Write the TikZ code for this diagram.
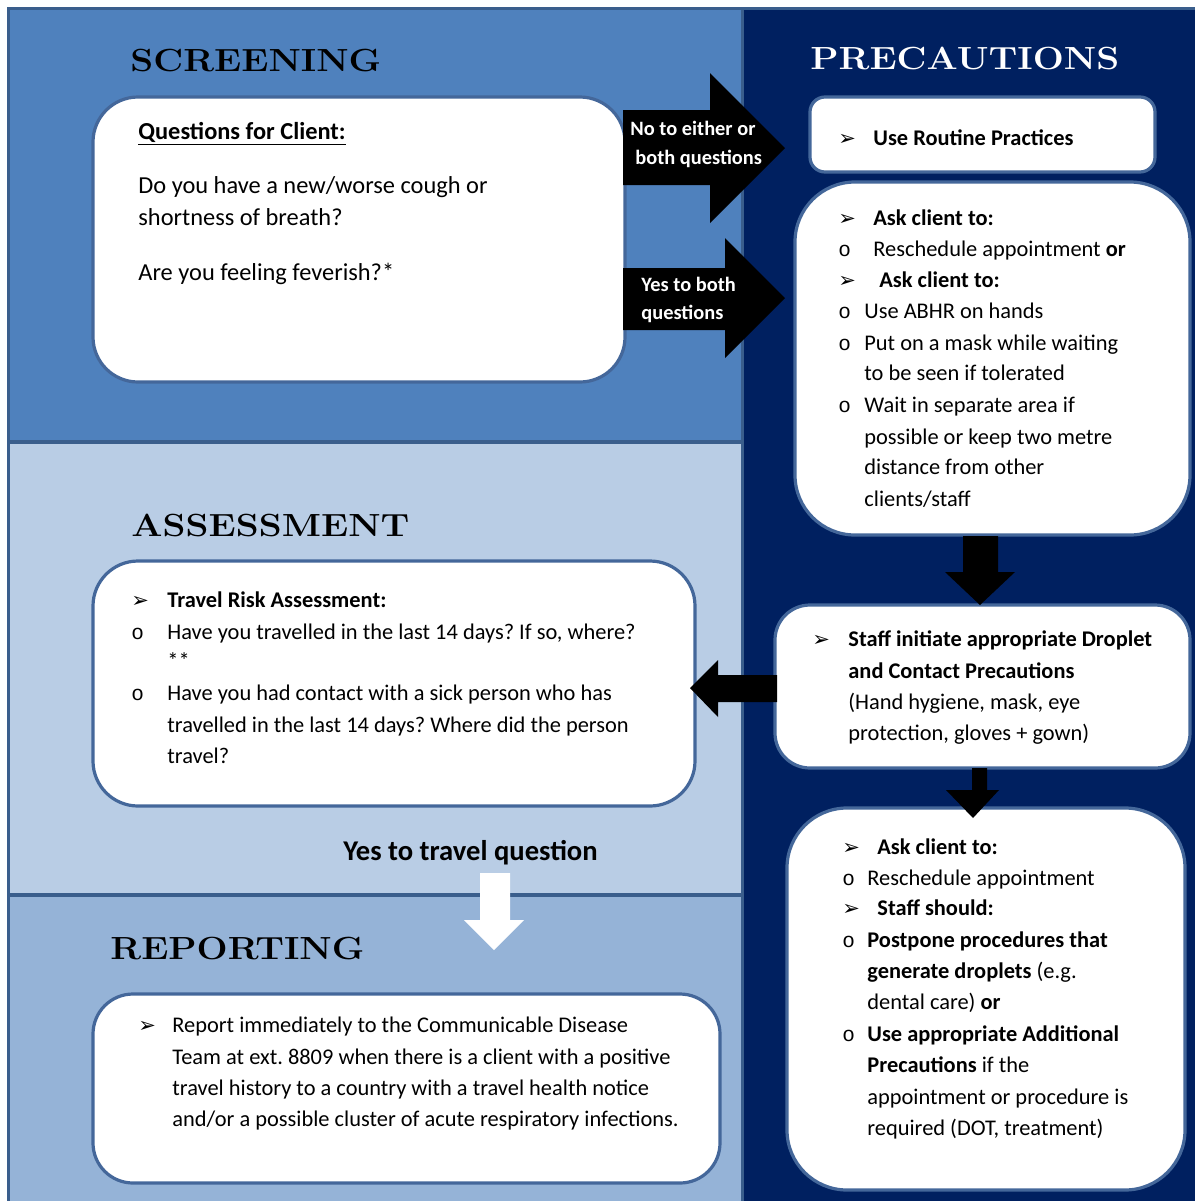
\documentclass[tikz,border=0pt]{standalone}
\usepackage{fontspec}
\usepackage{graphicx}
\newfontfamily\cali{Carlito}
\newfontfamily\djv{DejaVu Sans}
\newfontfamily\lmono{Liberation Mono}
\definecolor{scrbg}{HTML}{4F81BD}
\definecolor{assbg}{HTML}{B9CDE5}
\definecolor{repbg}{HTML}{95B3D7}
\definecolor{navy}{HTML}{002060}
\definecolor{divl}{HTML}{3A5E8C}
\definecolor{boxl}{HTML}{44679A}
\newcommand\arwb{{\djv\fontsize{10.5}{11}\selectfont ➢}}
\newcommand\obul{{\lmono\fontsize{10.5}{11}\selectfont o}}
\newcommand\ttlx[1]{\scalebox{1.15}[1]{#1}}
\frenchspacing
\begin{document}
\begin{tikzpicture}[x=0.5pt,y=-0.5pt,
 rbox/.style={draw=boxl,line width=1.6pt,fill=white,inner sep=0pt},
 txt/.style={anchor=base west,inner sep=0pt,font=\cali\fontsize{11.2}{13}\selectfont},
 qtxt/.style={anchor=base west,inner sep=0pt,font=\cali\fontsize{12.2}{14}\selectfont},
 blt/.style={anchor=base west,inner sep=0pt},
 ttl/.style={anchor=base west,inner sep=0pt,font=\bfseries\fontsize{16}{18}\selectfont},
 awt/.style={anchor=base west,inner sep=0pt,text=white,font=\cali\bfseries\fontsize{10.2}{12}\selectfont},
]
\useasboundingbox (0,0) rectangle (1195,1201);
\fill[white] (0,0) rectangle (1195,1201);
% panels
\fill[scrbg] (8,8) rectangle (742,442);
\fill[assbg] (8,442) rectangle (742,895);
\fill[repbg] (8,895) rectangle (742,1201);
\fill[navy] (742,8) rectangle (1195,1201);
\draw[divl,line width=2pt] (8,442) -- (742,442);
\draw[divl,line width=2pt] (8,895) -- (742,895);
\draw[divl,line width=1.5pt] (742,8) -- (742,1201);
\draw[divl,line width=1.5pt] (8,1201) -- (8,8) -- (1195,8);

% titles
\node[ttl] (tscr) at (130,71) {\ttlx{SCREENING}};
\node[ttl,text=white] (tpre) at (810,69) {\ttlx{PRECAUTIONS}};
\node[ttl] (tass) at (131,536) {\ttlx{ASSESSMENT}};
\node[ttl] (trep) at (110,959) {\ttlx{REPORTING}};

% boxes
\node[rbox,rounded corners=22.5pt,minimum width=266pt,minimum height=142.5pt] (qbox) at (359,239.5) {};
\node[rbox,rounded corners=7.5pt,minimum width=172.5pt,minimum height=37.5pt] (routbox) at (982.5,134.5) {};
\node[rbox,rounded corners=30pt,minimum width=197.5pt,minimum height=176.5pt] (askbox) at (992.5,358.5) {};
\node[rbox,rounded corners=17.5pt,minimum width=207.5pt,minimum height=81.5pt] (staffbox) at (982.5,686.5) {};
\node[rbox,rounded corners=30pt,minimum width=199pt,minimum height=191pt] (brbox) at (986,999) {};
\node[rbox,rounded corners=22.5pt,minimum width=301pt,minimum height=122.5pt] (assbox) at (394,683.5) {};
\node[rbox,rounded corners=20pt,minimum width=313.5pt,minimum height=94.5pt] (repbox) at (406.5,1088.5) {};

% block arrows
\fill[black] (623,110) -- (710,110) -- (710,73) -- (785,148) -- (710,223) -- (710,185) -- (623,185) -- cycle;
\fill[black] (623,268) -- (725,268) -- (725,238) -- (785,298) -- (725,358) -- (725,330) -- (623,330) -- cycle;
\fill[black] (963,536) -- (998,536) -- (998,572) -- (1015,572) -- (980,605) -- (945,572) -- (963,572) -- cycle;
\fill[black] (777,675) -- (718,675) -- (718,660) -- (690,688) -- (718,717) -- (718,702) -- (777,702) -- cycle;
\fill[black] (972,768) -- (987,768) -- (987,790) -- (999,790) -- (973,818) -- (946,790) -- (972,790) -- cycle;
\fill[white] (480,873) -- (510,873) -- (510,920) -- (524,920) -- (494,950) -- (464,920) -- (480,920) -- cycle;

% arrow labels
\node[awt] (no1) at (630,135) {No to either or};
\node[awt] (no2) at (635,164) {both questions};
\node[awt] (ye1) at (641,291) {Yes to both};
\node[awt] (ye2) at (641,319) {questions};

% questions box
\node[qtxt] (q0) at (138,139) {\textbf{\underline{Questions for Client:}}};
\node[qtxt] (q1) at (138,193) {Do you have a new/worse cough or};
\node[qtxt] (q2) at (138,225) {shortness of breath?};
\node[qtxt] (q3) at (138,280) {Are you feeling feverish?*};

% routine
\node[blt] (rb) at (838,145) {\arwb};
\node[txt] (r1) at (873,145) {\textbf{Use Routine Practices}};

% ask box
\node[blt] (ab1) at (838,225) {\arwb};
\node[txt] (a1) at (873,225) {\textbf{Ask client to:}};
\node[blt] (ab2) at (838,256) {\obul};
\node[txt] (a2) at (873,256) {Reschedule appointment \textbf{or}};
\node[blt] (ab3) at (838,287) {\arwb};
\node[txt] (a3) at (879,287) {\textbf{Ask client to:}};
\node[blt] (ab4) at (838,318) {\obul};
\node[txt] (a4) at (864,318) {Use ABHR on hands};
\node[blt] (ab5) at (838,350) {\obul};
\node[txt] (a5) at (864,350) {Put on a mask while waiting};
\node[txt] (a6) at (864,380) {to be seen if tolerated};
\node[blt] (ab7) at (838,412) {\obul};
\node[txt] (a7) at (864,412) {Wait in separate area if};
\node[txt] (a8) at (864,444) {possible or keep two metre};
\node[txt] (a9) at (864,474) {distance from other};
\node[txt] (a10) at (864,506) {clients/staff};

% staff box
\node[blt] (sb1) at (812,646) {\arwb};
\node[txt] (s1) at (848,646) {\textbf{Staff initiate appropriate Droplet}};
\node[txt] (s2) at (848,678) {\textbf{and Contact Precautions}};
\node[txt] (s3) at (848,709) {(Hand hygiene, mask, eye};
\node[txt] (s4) at (848,740) {protection, gloves + gown)};

% bottom right box
\node[blt] (bb1) at (842,854) {\arwb};
\node[txt] (b1) at (877,854) {\textbf{Ask client to:}};
\node[blt] (bb2) at (842,885) {\obul};
\node[txt] (b2) at (867,885) {Reschedule appointment};
\node[blt] (bb3) at (842,915) {\arwb};
\node[txt] (b3) at (877,915) {\textbf{Staff should:}};
\node[blt] (bb4) at (842,947) {\obul};
\node[txt] (b4) at (867,947) {\textbf{Postpone procedures that}};
\node[txt] (b5) at (867,978) {\textbf{generate droplets} (e.g.};
\node[txt] (b6) at (867,1009) {dental care) \textbf{or}};
\node[blt] (bb7) at (842,1041) {\obul};
\node[txt] (b7) at (867,1041) {\textbf{Use appropriate Additional}};
\node[txt] (b8) at (867,1072) {\textbf{Precautions} if the};
\node[txt] (b9) at (867,1104) {appointment or procedure is};
\node[txt] (b10) at (867,1135) {required (DOT, treatment)};

% assessment box
\node[blt] (tb1) at (131,607) {\arwb};
\node[txt] (t1) at (167,607) {\textbf{Travel Risk Assessment:}};
\node[blt] (tb2) at (131,639) {\obul};
\node[txt] (t2) at (167,639) {Have you travelled in the last 14 days? If so, where?};
\node[txt] (t3) at (167,668) {**};
\node[blt] (tb4) at (131,700) {\obul};
\node[txt] (t4) at (167,700) {Have you had contact with a sick person who has};
\node[txt] (t5) at (167,732) {travelled in the last 14 days? Where did the person};
\node[txt] (t6) at (167,763) {travel?};

\node[anchor=base west,inner sep=0pt,font=\cali\bfseries\fontsize{14.3}{16}\selectfont] (ytq) at (343,860) {Yes to travel question};

% reporting box
\node[blt] (pb1) at (138,1032) {\arwb};
\node[txt] (p1) at (172,1032) {Report immediately to the Communicable Disease};
\node[txt] (p2) at (172,1064) {Team at ext. 8809 when there is a client with a positive};
\node[txt] (p3) at (172,1095) {travel history to a country with a travel health notice};
\node[txt] (p4) at (172,1126) {and/or a possible cluster of acute respiratory infections.};
\end{tikzpicture}
\end{document}
